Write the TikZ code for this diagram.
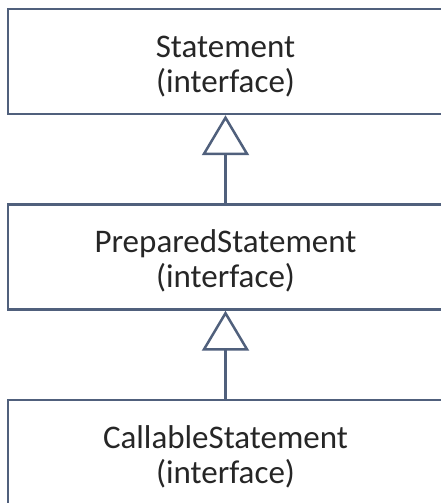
\documentclass[tikz,border=0pt]{standalone}
\usepackage{fontspec}
\setmainfont{Carlito}
\usetikzlibrary{arrows.meta,positioning}
\definecolor{umlline}{RGB}{80,96,124}
\tikzset{iface/.style={draw=umlline, line width=2.5pt, minimum width=435pt, minimum height=105pt,
  align=center, text=black!85, font=\fontsize{33}{35}\selectfont}}
\tikzset{realizes/.style={draw=umlline, line width=2.5pt, -{Triangle[open, length=40pt, width=47pt]}}}
\newcommand{\ifacestrut}{\rule{0pt}{31pt}}

\begin{document}
\begin{tikzpicture}[x=1pt,y=1pt]
\useasboundingbox (0,0) rectangle (440,503);
\node[iface] (stmt) at (225.5,441.5) {\ifacestrut Statement\\(interface)};
\node[iface, below=88pt of stmt] (prep) {\ifacestrut PreparedStatement\\(interface)};
\node[iface, below=88pt of prep] (call) {\ifacestrut CallableStatement\\(interface)};
% inheritance
\draw[realizes] (prep) -- (stmt);
\draw[realizes] (call) -- (prep);
\end{tikzpicture}
\end{document}
